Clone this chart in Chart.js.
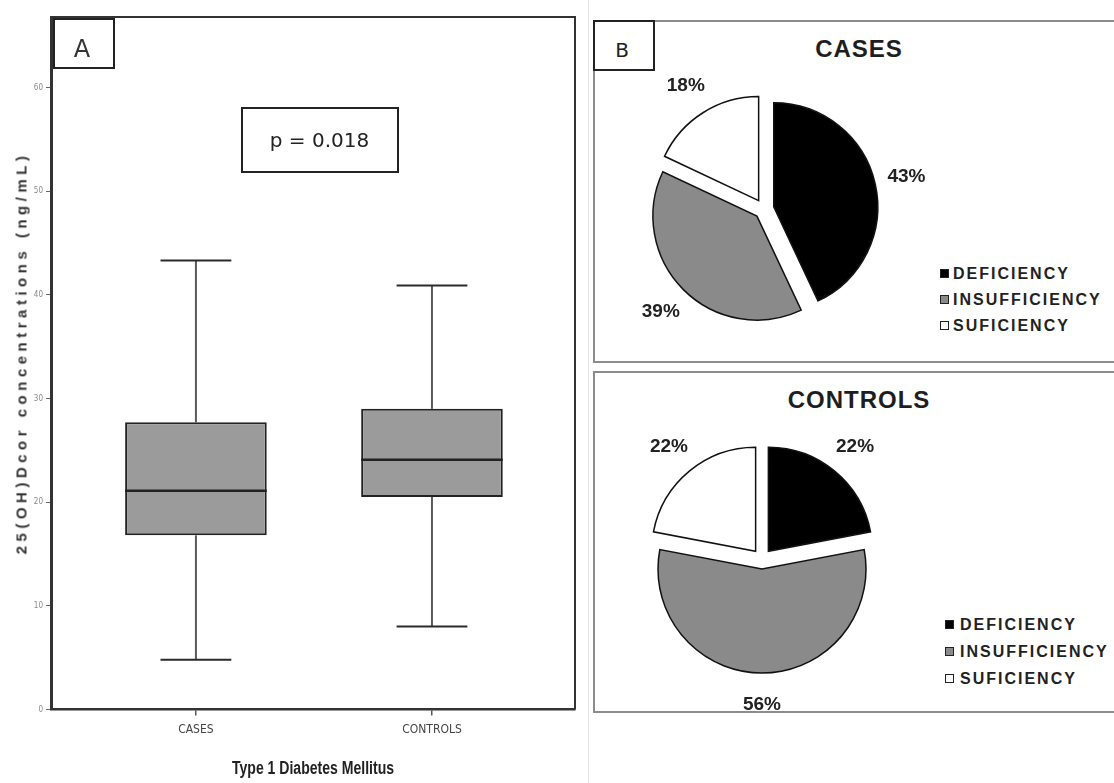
<!DOCTYPE html>
<html>
<head>
<meta charset="utf-8">
<script src="https://cdn.jsdelivr.net/npm/chart.js@4/dist/chart.umd.min.js"></script>
<style>
  html, body { margin: 0; padding: 0; background: #fff; overflow: hidden; }
  #page { position: relative; width: 1114px; height: 783px; overflow: hidden;
          font-family: "Liberation Sans", Arial, sans-serif; color: #222; }
  canvas { position: absolute; }
  .panel { position: absolute; box-sizing: border-box; left: 593px; width: 540px;
           border: 2px solid #8c8c8c; background: #fff; }
  .tag { position: absolute; box-sizing: border-box; border: 2px solid #222; width: 62px; height: 51px; }
  .txt { position: absolute; white-space: nowrap; transform: translateX(-50%); }
  #sep { position: absolute; left: 588px; top: 0; width: 1px; height: 783px; background: #e2e2e2; }
  #ytitle { position: absolute; left: 21px; top: 353px; white-space: nowrap;
            font: bold 15px "Liberation Sans", Arial, sans-serif; letter-spacing: 4.5px; color: #333;
            transform: translate(-50%, -50%) rotate(-90deg); line-height: 15px; }
  #xtitle { position: absolute; left: 313px; top: 758.8px; white-space: nowrap;
            font: bold 18px/18px "Liberation Sans", Arial, sans-serif; color: #222;
            transform: translateX(-50%) scaleX(0.78); }
  .ptitle { font: bold 24px/24px "Liberation Sans", Arial, sans-serif; letter-spacing: 1px; color: #1e1e1e; }
  .lg { position: absolute; white-space: nowrap; font: bold 16px/16px "Liberation Sans", Arial, sans-serif;
        letter-spacing: 2px; color: #222; }
  .sw { position: absolute; box-sizing: border-box; width: 9px; height: 9px; border: 1px solid #222; }
</style>
</head>
<body>
<div id="page">
  <div id="sep"></div>
  <div class="panel" style="top:20px;height:343px"></div>
  <div class="panel" style="top:371px;height:342px"></div>

  <canvas id="boxChart" width="590" height="783" style="left:0;top:0"></canvas>
  <div id="ytitle">25(OH)Dcor concentrations (ng/mL)</div>
  <div id="xtitle">Type 1 Diabetes Mellitus</div>

  <div class="tag" style="left:53px;top:18px"></div>
  <div class="txt" style="left:82px;top:36.7px;font:24px/24px 'DejaVu Sans',sans-serif;color:#333">A</div>
  <div class="tag" style="left:241px;top:107px;width:158px;height:66px"></div>
  <div class="txt" style="left:319.5px;top:129.8px;font:20px/20px 'DejaVu Sans',sans-serif;color:#222">p = 0.018</div>

  <div class="tag" style="left:593px;top:20px"></div>
  <div class="txt" style="left:622px;top:40px;font:20px/20px 'DejaVu Sans',sans-serif;color:#222">B</div>

  <div class="txt ptitle" style="left:859px;top:37px">CASES</div>
  <div class="txt ptitle" style="left:859px;top:387.7px">CONTROLS</div>

  <canvas id="pieCases" width="340" height="340" style="left:594px;top:38.5px"></canvas>
  <canvas id="pieControls" width="340" height="340" style="left:592px;top:389px"></canvas>
</div>

<script>
// Vitamin D (25(OH)Dcor) distribution per group: box-plot five-number summaries
const categories  = ['CASES', 'CONTROLS'];
const whiskerLow  = [4.8, 8.0];
const quartile1   = [16.8, 20.5];
const medianValue = [21.1, 24.1];
const quartile3   = [27.7, 29.0];
const whiskerHigh = [43.3, 40.9];
const yTickValues = [0, 10, 20, 30, 40, 50, 60];

// Vitamin D status shares (%) for each group
const statusLabels  = ['DEFICIENCY', 'INSUFFICIENCY', 'SUFICIENCY'];
const casesShare    = [43, 39, 18];
const controlsShare = [22, 56, 22];

const sliceColors = ['#000000', '#8a8a8a', '#ffffff'];
const narrowFont = '"Liberation Sans Narrow", "Arial Narrow", "DejaVu Sans Condensed", "Liberation Sans", sans-serif';

// ---------- box plot ----------
const boxDecor = {
  id: 'boxDecor',
  afterDatasetsDraw(chart) {
    const { ctx, scales: { y } } = chart;
    const bars = chart.getDatasetMeta(0).data;
    const seg = (x1, y1, x2, y2) => { ctx.beginPath(); ctx.moveTo(x1, y1); ctx.lineTo(x2, y2); ctx.stroke(); };
    ctx.save();
    ctx.lineCap = 'butt';
    bars.forEach((bar, i) => {
      const cx = bar.x;
      const half = bar.width / 2;
      const capHalf = half * 0.5;
      const yLo = y.getPixelForValue(whiskerLow[i]);
      const yQ1 = y.getPixelForValue(quartile1[i]);
      const yMed = y.getPixelForValue(medianValue[i]);
      const yQ3 = y.getPixelForValue(quartile3[i]);
      const yHi = y.getPixelForValue(whiskerHigh[i]);
      ctx.strokeStyle = '#5a5a5a';
      ctx.lineWidth = 2;
      seg(cx, yQ3, cx, yHi);
      seg(cx, yQ1, cx, yLo);
      ctx.strokeStyle = '#2a2a2a';
      seg(cx - capHalf, yHi, cx + capHalf, yHi);
      seg(cx - capHalf, yLo, cx + capHalf, yLo);
      ctx.lineWidth = 2.5;
      ctx.strokeStyle = '#222';
      seg(cx - half, yMed, cx + half, yMed);
    });
    ctx.restore();
  },
  afterDraw(chart) {
    const { ctx, chartArea: a } = chart;
    ctx.save();
    ctx.strokeStyle = '#333';
    ctx.lineWidth = 2;
    ctx.beginPath();
    ctx.moveTo(a.left, a.top);
    ctx.lineTo(a.right, a.top);
    ctx.lineTo(a.right, a.bottom);
    ctx.stroke();
    ctx.restore();
  }
};

new Chart(document.getElementById('boxChart'), {
  type: 'bar',
  data: {
    datasets: [{
      data: categories.map((c, i) => ({ x: i + 1, y: [quartile1[i], quartile3[i]] })),
      backgroundColor: '#9b9b9b',
      borderColor: '#222',
      borderWidth: 2,
      borderSkipped: false,
      barPercentage: 0.75,
      categoryPercentage: 0.8
    }]
  },
  options: {
    responsive: false,
    animation: false,
    events: [],
    layout: { padding: { left: 0, top: 17, right: 15, bottom: 0 } },
    plugins: { legend: { display: false }, tooltip: { enabled: false } },
    scales: {
      x: {
        type: 'linear',
        min: 0.386,
        max: 2.606,
        offset: false,
        afterFit: s => { s.height = 73.5; },
        afterBuildTicks: s => { s.ticks = categories.map((c, i) => ({ value: i + 1 })); },
        ticks: {
          autoSkip: false, maxRotation: 0, padding: 7,
          callback: v => categories[v - 1] || '',
          color: '#444',
          font: { family: narrowFont, size: 12 }
        },
        grid: { drawOnChartArea: false, offset: false, tickLength: 6, color: '#555', lineWidth: 1.5 },
        border: { display: true, color: '#333', width: 2.5 }
      },
      y: {
        min: 0,
        max: 66.8,
        afterFit: s => { s.width = 51; },
        afterBuildTicks: s => { s.ticks = yTickValues.map(v => ({ value: v })); },
        ticks: { color: '#888', padding: 3, font: { family: narrowFont, size: 8 } },
        grid: { drawOnChartArea: false, tickLength: 5, color: '#666' },
        border: { display: true, color: '#333', width: 3 }
      }
    }
  },
  plugins: [boxDecor]
});

// ---------- exploded pies ----------
const explode = {
  id: 'explode',
  beforeDatasetsDraw(chart, args, opts) {
    const ctx = chart.ctx;
    const meta = chart.getDatasetMeta(0);
    const values = chart.data.datasets[0].data;
    meta.data.forEach(arc => {
      const mid = (arc.startAngle + arc.endAngle) / 2;
      ctx.save();
      ctx.translate(Math.cos(mid) * opts.distance, Math.sin(mid) * opts.distance);
      arc.draw(ctx, chart.chartArea);
      ctx.restore();
    });
    ctx.save();
    ctx.fillStyle = '#222';
    ctx.font = 'bold 19px "Liberation Sans", Arial, sans-serif';
    ctx.textAlign = 'center';
    ctx.textBaseline = 'middle';
    meta.data.forEach((arc, i) => {
      const mid = (arc.startAngle + arc.endAngle) / 2;
      const r = arc.outerRadius + opts.labelGap;
      ctx.fillText(values[i] + '%', arc.x + Math.cos(mid) * r, arc.y + Math.sin(mid) * r);
    });
    ctx.restore();
    return false;
  }
};

function makePie(id, shares) {
  return new Chart(document.getElementById(id), {
    type: 'pie',
    data: {
      labels: statusLabels,
      datasets: [{
        data: shares,
        radius: 104,
        backgroundColor: sliceColors,
        borderColor: '#111',
        borderWidth: 1.5,
        borderJoinStyle: 'miter'
      }]
    },
    options: {
      responsive: false,
      animation: false,
      events: [],
      layout: { padding: 0 },
      plugins: {
        legend: { display: false },
        tooltip: { enabled: false },
        explode: { distance: 10, labelGap: 42 }
      }
    },
    plugins: [explode]
  });
}
makePie('pieCases', casesShare);
makePie('pieControls', controlsShare);

// ---------- legends ----------
function makeLegend(swatchLeft, textLeft, baselines) {
  const page = document.getElementById('page');
  statusLabels.forEach((label, i) => {
    const sw = document.createElement('div');
    sw.className = 'sw';
    sw.style.left = swatchLeft + 'px';
    sw.style.top = (baselines[i] - 10.5) + 'px';
    sw.style.background = sliceColors[i];
    page.appendChild(sw);
    const t = document.createElement('div');
    t.className = 'lg';
    t.style.left = textLeft + 'px';
    t.style.top = (baselines[i] - 13.5) + 'px';
    t.textContent = label;
    page.appendChild(t);
  });
}
makeLegend(940, 953, [279, 305, 331]);
makeLegend(945, 960, [630, 657, 684]);
</script>
</body>
</html>
